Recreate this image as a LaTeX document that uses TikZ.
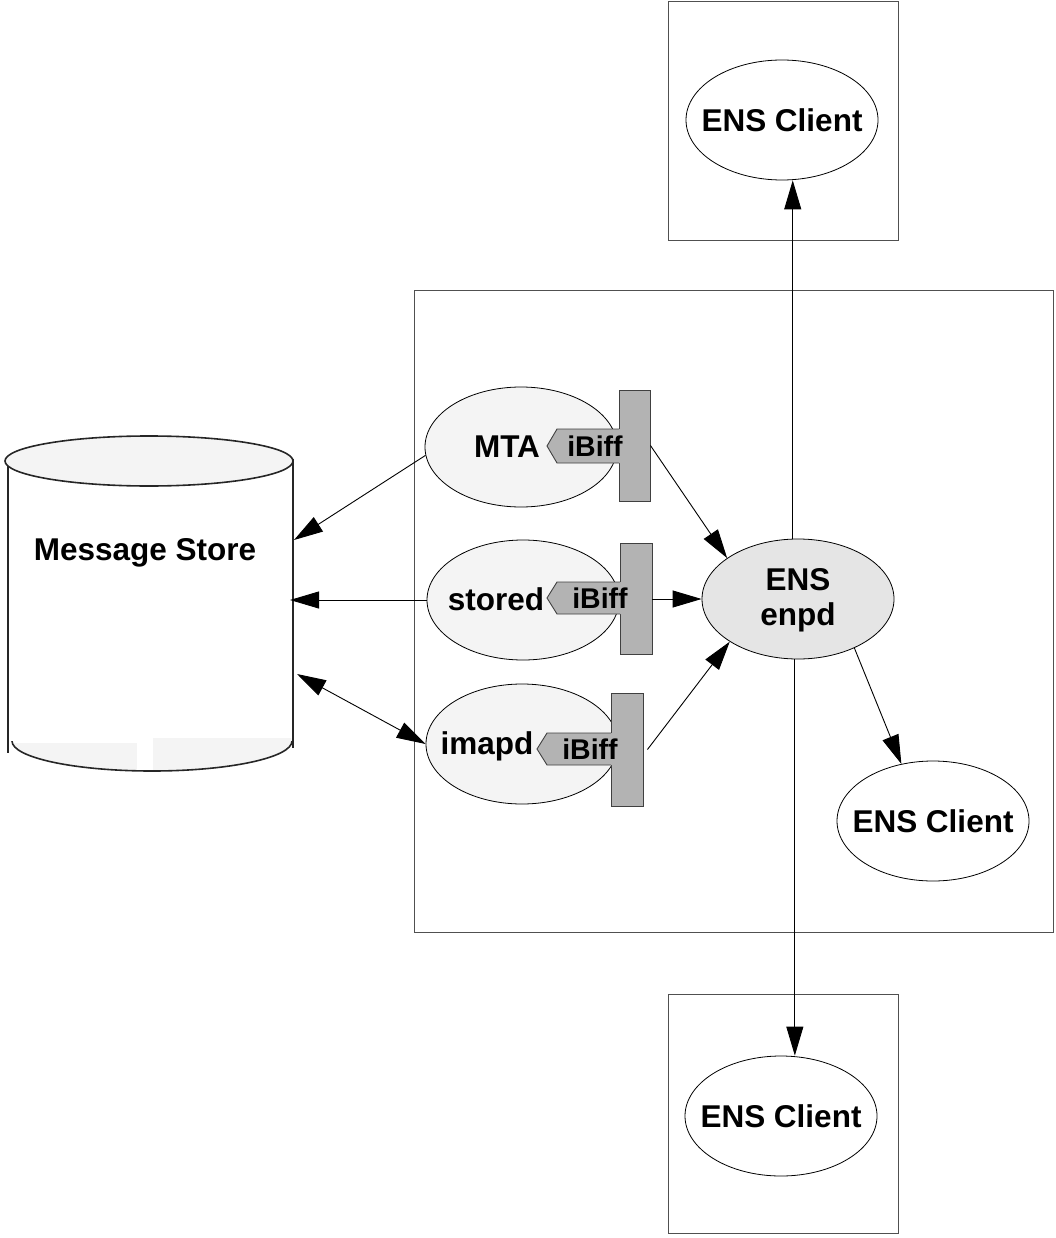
\documentclass[tikz,border=0pt]{standalone}
\usepackage{fontspec}
\setmainfont{Liberation Sans}
\usetikzlibrary{arrows.meta,shapes.geometric}

\definecolor{procfill}{HTML}{F4F4F4}
\definecolor{hubfill}{HTML}{E5E5E5}
\definecolor{tagfill}{HTML}{B3B3B3}
\definecolor{tagline}{HTML}{404040}
\definecolor{framecol}{HTML}{505050}

\begin{document}
\begin{tikzpicture}[x=1pt,y=-1pt,
  lbl/.style={font=\fontsize{31.5}{35}\selectfont\bfseries, inner sep=0pt},
  taglbl/.style={font=\fontsize{28.5}{30}\selectfont\bfseries, inner sep=0pt},
  oval/.style={ellipse, draw, line width=0.8pt, minimum width=192pt, minimum height=120pt, inner sep=0pt},
  frame/.style={draw=framecol, line width=1pt},
  cyl/.style={draw=black!85, line width=1.6pt},
  bar/.style={rectangle, draw=tagline, fill=tagfill, line width=0.9pt, inner sep=0pt},
  arr/.style={line width=0.9pt, -{Triangle[length=29pt,width=17pt]}},
  arrboth/.style={line width=0.9pt, {Triangle[length=29pt,width=17pt]}-{Triangle[length=29pt,width=17pt]}}]

\useasboundingbox (0,0) rectangle (1055,1238);

% host frames
\draw[frame] (668,2) rectangle (898,241);
\draw[frame] (414,291) rectangle (1053,932);
\draw[frame] (668,994) rectangle (898,1233);

% message store cylinder
\begin{scope}
  \clip (152,741) ellipse[x radius=140, y radius=30];
  \fill[procfill] (0,743) rectangle (137,800);
  \fill[procfill] (153,738) rectangle (300,800);
\end{scope}
\begin{scope}
  \clip (0,741) rectangle (300,800);
  \draw[cyl] (152,741) ellipse[x radius=140, y radius=30];
\end{scope}
\draw[cyl] (8,463) -- (8,753);
\draw[cyl] (293,459) -- (293,748);
\draw[cyl, fill=procfill] (149,461) ellipse[x radius=144, y radius=25];
\node[lbl] (msg) at (145,553) {Message Store};
\coordinate (storeA) at (294,540);
\coordinate (storeB) at (290,600);
\coordinate (storeC) at (297,674);

% processes
\node[oval, fill=procfill] (mta) at (521,447) {};
\node[oval, fill=procfill] (stored) at (523,600) {};
\node[oval, fill=procfill] (imapd) at (522,744) {};
\node[lbl] (mtatxt) at (507,447) {MTA};
\node[lbl] (storedtxt) at (496,599) {stored};
\node[lbl] (imapdtxt) at (487,746) {imapd};

% iBiff plug-ins
\node[bar, minimum width=31pt, minimum height=111pt] (mtabar) at (634.5,445.5) {};
\node[bar, minimum width=32pt, minimum height=111pt] (storedbar) at (636,599) {};
\node[bar, minimum width=32pt, minimum height=113pt] (imapdbar) at (627,749.5) {};
\fill[tagfill] (620,429) -- (557,429) -- (547,446) -- (557,463) -- (620,463) -- cycle;
\draw[tagline, line width=0.9pt] (619,429) -- (557,429) -- (547,446) -- (557,463) -- (619,463);
\fill[tagfill] (621,582) -- (557,582) -- (547,598) -- (557,614) -- (621,614) -- cycle;
\draw[tagline, line width=0.9pt] (620,582) -- (557,582) -- (547,598) -- (557,614) -- (620,614);
\fill[tagfill] (612,733) -- (547,733) -- (537,749) -- (547,765) -- (612,765) -- cycle;
\draw[tagline, line width=0.9pt] (611,733) -- (547,733) -- (537,749) -- (547,765) -- (611,765);
\node[taglbl] (mtatag) at (595,446) {iBiff};
\node[taglbl] (storedtag) at (600,598) {iBiff};
\node[taglbl] (imapdtag) at (590,749) {iBiff};

% notification service and clients
\node[oval, fill=hubfill] (enpd) at (798,599) {};
\node[lbl, align=center] (enpdtxt) at (798,600) {ENS\\enpd};
\node[oval, fill=white, label={[lbl]center:ENS Client}] (tclient) at (782,120) {};
\node[oval, fill=white, label={[lbl]center:ENS Client}] (rclient) at (933,821) {};
\node[oval, fill=white, label={[lbl]center:ENS Client}] (bclient) at (781,1116) {};

% connectors
\draw[arr] (mta.185) -- (storeA);
\draw[arr] (stored.west) -- (storeB);
\draw[arrboth] (storeC) -- (imapd.west);
\draw[arr] (mtabar.east) -- (enpd.150);
\draw[arr] (storedbar.east) -- (enpd.west);
\draw[arr] ([xshift=4pt]imapdbar.east) -- (enpd.212);
\draw[arr] (enpd.95) -- (enpd.95 |- tclient.south);
\draw[arr] (enpd.267) -- (enpd.267 |- bclient.north);
\draw[arr] (enpd.319) -- (rclient.119);
\end{tikzpicture}
\end{document}
